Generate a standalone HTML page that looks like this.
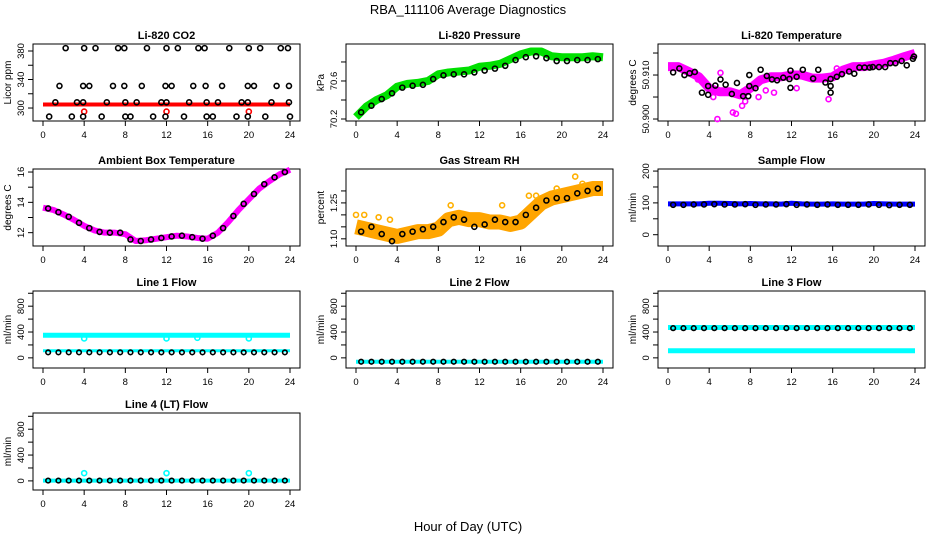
<!DOCTYPE html>
<html><head><meta charset="utf-8"><style>
html,body{margin:0;padding:0;background:#fff;}
svg{display:block;font-family:"Liberation Sans",Arial,sans-serif;}
</style></head><body>
<svg id="chart" width="936" height="540" viewBox="0 0 936 540">
<text x="468" y="14" text-anchor="middle" font-size="13">RBA_111106  Average Diagnostics</text>
<text x="468" y="531" text-anchor="middle" font-size="13">Hour of Day (UTC)</text>
</svg>
<script>
const HOURS=[0,1,2,3,4,5,6,7,8,9,10,11,12,13,14,15,16,17,18,19,20,21,22,23,24];
const HALF=[0.5,1.5,2.5,3.5,4.5,5.5,6.5,7.5,8.5,9.5,10.5,11.5,12.5,13.5,14.5,15.5,16.5,17.5,18.5,19.5,20.5,21.5,22.5,23.5];
const X_TICKS=[0,4,8,12,16,20,24];

// CO2
const CO2_RED=[305,305,305,305,305,305,305,305,305,305,305,305,305,305,305,305,305,305,305,305,305,305,305,305,305];
const CO2_RED_OUT_X=[4,12,20];
const CO2_RED_OUT_Y=[295,295,295];
const CO2_BLK_X=[2.2,4,5.1,7.3,7.9,10.1,12,13.1,15.1,15.7,18.1,20,21.1,23.1,23.8,1.6,3.9,4.5,6.8,7.9,9.6,11.9,12.5,14.6,15.8,17.4,19.9,20.5,22.7,23.9,1.2,3.3,3.9,6.2,8,9.1,11.5,12,14.2,15.9,17,19.3,19.9,22.2,23.9,0.6,2.8,3.9,5.7,8,8.5,10.7,11.9,13.7,15.9,16.5,18.8,19.9,21.6,24];
const CO2_BLK_Y=[384,384,384,384,384,384,384,384,384,384,384,384,384,384,384,331,331,331,331,331,331,331,331,331,331,331,331,331,331,331,308,308,308,308,308,308,308,308,308,308,308,308,308,308,308,288,288,288,288,288,288,288,288,288,288,288,288,288,288,288];

// Pressure
const PRES_GREEN=[70.22,70.33,70.40,70.45,70.54,70.57,70.58,70.60,70.67,70.69,70.70,70.71,70.75,70.76,70.78,70.83,70.88,70.91,70.91,70.86,70.85,70.85,70.85,70.86,70.85];
const PRES_BLK=[70.27,70.34,70.41,70.47,70.53,70.55,70.56,70.62,70.66,70.67,70.67,70.69,70.71,70.73,70.76,70.82,70.85,70.86,70.84,70.81,70.81,70.82,70.82,70.83];

// Li-820 temperature
const TEMP_MAG=[50.9119,50.9119,50.9108,50.9096,50.9070,50.9062,50.9062,50.9055,50.9070,50.9089,50.9096,50.9096,50.9100,50.9100,50.9093,50.9093,50.9096,50.9111,50.9119,50.9119,50.9123,50.9127,50.9134,50.9142,50.9149];
const TEMP_OUT_X=[4.8,6.3,6.6,7.2,9.5,10.3,12.5,15.6,5.1,16.4,3.5,4.4,7.5,8.8,2.9];
const TEMP_OUT_Y=[50.9000,50.9015,50.9012,50.9030,50.9065,50.9060,50.9070,50.9045,50.9105,50.9115,50.9080,50.9050,50.9040,50.9050,50.9090];
const TEMP_BLK_X=[0.5,1.1,1.6,2.1,2.6,3.3,3.9,3.9,4.6,5.1,5.6,6.2,6.7,7.3,7.8,7.9,7.9,8.5,9.0,9.6,10.1,10.6,11.2,11.8,11.9,11.9,12.5,13.1,14.1,14.6,15.3,15.8,15.8,15.8,16.4,16.9,17.6,18.1,18.6,19.1,19.6,19.9,20.5,21.1,21.6,22.1,22.7,23.2,23.8,23.9];
const TEMP_BLK_Y=[50.9106,50.9115,50.9100,50.9104,50.9107,50.9060,50.9075,50.9055,50.9076,50.9090,50.9078,50.9057,50.9082,50.9052,50.9052,50.9100,50.9075,50.9070,50.9112,50.9098,50.9090,50.9088,50.9094,50.9091,50.9071,50.9110,50.9096,50.9112,50.9092,50.9112,50.9083,50.9075,50.9091,50.9060,50.9096,50.9102,50.9108,50.9103,50.9117,50.9117,50.9117,50.9118,50.9118,50.9118,50.9127,50.9127,50.9132,50.9122,50.9137,50.9142];

// Ambient box temperature
const AMB_MAG=[13.65,13.5,13.2,12.85,12.45,12.15,12.0,12.0,11.9,11.45,11.5,11.6,11.7,11.8,11.75,11.65,11.6,12.0,12.7,13.5,14.2,14.9,15.4,15.85,16.15];
const AMB_BLK=[13.6,13.35,13.05,12.65,12.3,12.05,12.0,12.0,11.55,11.45,11.55,11.65,11.75,11.8,11.7,11.6,11.8,12.3,13.1,13.9,14.55,15.2,15.65,16.0];

// Gas stream RH
const RH_ORG=[1.15,1.14,1.13,1.12,1.11,1.12,1.13,1.13,1.14,1.18,1.19,1.18,1.18,1.17,1.17,1.16,1.17,1.21,1.25,1.27,1.28,1.29,1.30,1.31,1.31];
const RH_OUT_X=[0,0.8,2.2,3.3,9.2,14.2,17.5,19.5,21.3,22,16.8,8.0];
const RH_OUT_Y=[1.20,1.20,1.19,1.18,1.24,1.24,1.28,1.31,1.36,1.33,1.28,1.15];
const RH_BLK=[1.13,1.15,1.12,1.09,1.12,1.13,1.14,1.15,1.17,1.19,1.18,1.15,1.16,1.18,1.17,1.17,1.20,1.23,1.26,1.27,1.27,1.29,1.30,1.31];

// Sample flow
const SF_BLUE=[97,97,97,97,99,99,98,97,98,97,97,96,99,97,96,96,97,96,96,96,98,97,96,96,96];
const SF_BLK=[94,94,95,95,96,95,95,96,94,95,95,96,94,95,94,95,94,94,94,95,94,93,94,94];

// Line flows
const L1_CYAN_HI=[350,350,350,350,350,350,350,350,350,350,350,350,350,350,350,350,350,350,350,350,350,350,350,350,350];
const L1_CYAN_LO=[110,110,110,110,110,110,110,110,110,110,110,110,110,110,110,110,110,110,110,110,110,110,110,110,110];
const L1_OUT_X=[4,12,15,20];
const L1_OUT_Y=[300,300,310,300];
const L1_BLK=[85,85,85,85,85,85,85,85,85,85,85,85,85,85,85,85,85,85,85,85,85,85,85,85];
const L2_CYAN=[-60,-60,-60,-60,-60,-60,-60,-60,-60,-60,-60,-60,-60,-60,-60,-60,-60,-60,-60,-60,-60,-60,-60,-60,-60];
const L2_BLK=[-60,-60,-60,-60,-60,-60,-60,-60,-60,-60,-60,-60,-60,-60,-60,-60,-60,-60,-60,-60,-60,-60,-60,-60];
const L3_CYAN_HI=[470,470,470,470,470,470,470,470,470,470,470,470,470,470,470,470,470,470,470,470,470,470,470,470,470];
const L3_CYAN_LO=[110,110,110,110,110,110,110,110,110,110,110,110,110,110,110,110,110,110,110,110,110,110,110,110,110];
const L3_BLK=[460,460,460,460,460,460,460,460,460,460,460,460,460,460,460,460,460,460,460,460,460,460,460,460];
const L4_CYAN=[5,5,5,5,5,5,5,5,5,5,5,5,5,5,5,5,5,5,5,5,5,5,5,5,5];
const L4_OUT_X=[4,12,20];
const L4_OUT_Y=[120,120,120];
const L4_BLK=[5,5,5,5,5,5,5,5,5,5,5,5,5,5,5,5,5,5,5,5,5,5,5,5];

const svg=document.getElementById('chart');
const NS='http://www.w3.org/2000/svg';
function mk(tag,attrs,parent){const e=document.createElementNS(NS,tag);for(const k in attrs)e.setAttribute(k,attrs[k]);(parent||svg).appendChild(e);return e;}

const COLS=[33,346,658], ROWS=[44,169,291,413], W=267, H=77;
function panel(col,row,title,ylab,lo,hi,ticks,labels,key){
  const L=COLS[col],T=ROWS[row];
  const g=mk('g',{});
  
  
  const p={L,T,g,
    x:v=>L+10+v*247/24,
    y:v=>T+H-(v-lo)/(hi-lo)*H};
  const t=mk('text',{x:L+W/2,y:T-5,'text-anchor':'middle','font-size':'11','font-weight':'bold'},g);
  t.textContent=title;
  
  
  const box=mk('rect',{x:L,y:T,width:W,height:H,fill:'none',stroke:'#000','stroke-width':1},g);
  
  
  const xa=mk('g',{},g);
  
  
  X_TICKS.forEach(v=>{
    mk('line',{x1:p.x(v),x2:p.x(v),y1:T+H,y2:T+H+5,stroke:'#000'},xa);
    const tl=mk('text',{x:p.x(v),y:T+H+17,'text-anchor':'middle','font-size':'9.5'},xa);
    tl.textContent=v;
    
    
  });
  const ya=mk('g',{},g);
  
  
  mk('line',{x1:L,x2:L,y1:p.y(ticks[0]),y2:p.y(ticks[ticks.length-1]),stroke:'#000'},ya);
  ticks.forEach(v=>{mk('line',{x1:L-5,x2:L,y1:p.y(v),y2:p.y(v),stroke:'#000'},ya);});
  labels.forEach(v=>{
    const yy=p.y(v);
    const tl=mk('text',{x:L-9,y:yy,'text-anchor':'middle','font-size':'9.5',transform:`rotate(-90 ${L-9} ${yy})`},ya);
    tl.textContent=v;
    
    
  });
  const yt=mk('text',{x:L-22,y:T+H/2,'text-anchor':'middle','font-size':'10',transform:`rotate(-90 ${L-22} ${T+H/2})`},g);
  yt.textContent=ylab;
  
  
  return p;
}
function band(p,xs,vals,color,w,name){
  const pts=xs.map((x,i)=>p.x(x)+','+p.y(vals[i])).join(' ');
  const e=mk('polyline',{points:pts,fill:'none',stroke:color,'stroke-width':w,'stroke-linejoin':'round','stroke-linecap':'butt'},p.g);
  
  
}
function pts(p,xs,vals,color,name,r){
  xs.forEach((x,i)=>{
    const c=mk('circle',{cx:p.x(x),cy:p.y(vals[i]),r:r||2.5,fill:'none',stroke:color,'stroke-width':1.6},p.g);
    
    
  });
}
const FT=[0,200,400,600,800,1000], FL=[0,400,800];

let p=panel(0,0,'Li-820 CO2','Licor ppm',281.8,389.8,[300,320,340,360,380],[300,340,380],'co2');
band(p,HOURS,CO2_RED,'#f00',4,'co2-red-series');
pts(p,CO2_RED_OUT_X,CO2_RED_OUT_Y,'#f00','co2-red-point');
pts(p,CO2_BLK_X,CO2_BLK_Y,'#000','co2-black-point');

p=panel(1,0,'Li-820 Pressure','kPa',70.179,70.989,[70.2,70.4,70.6,70.8],[70.2,70.6],'pressure');
band(p,HOURS,PRES_GREEN,'#00e000',8,'pressure-green-series');
pts(p,HALF,PRES_BLK,'#000','pressure-black-point');

p=panel(2,0,'Li-820 Temperature','degrees C',50.89955,50.91705,[50.900,50.905,50.910,50.915],['50.900','50.910'],'li820-temp');
band(p,HOURS,TEMP_MAG,'#ff00ff',9,'temp-magenta-series');
pts(p,TEMP_OUT_X,TEMP_OUT_Y,'#ff00ff','temp-magenta-point');
pts(p,TEMP_BLK_X,TEMP_BLK_Y,'#000','temp-black-point');

p=panel(0,1,'Ambient Box Temperature','degrees C',11.12,16.2,[12,13,14,15,16],[12,14,16],'ambient');
band(p,HOURS,AMB_MAG,'#ff00ff',6,'ambient-magenta-series');
pts(p,HALF,AMB_BLK,'#000','ambient-black-point');

p=panel(1,1,'Gas Stream RH','percent',1.070,1.3916,[1.10,1.15,1.20,1.25,1.30],['1.10','1.25'],'rh');
band(p,HOURS,RH_ORG,'#ffa500',15,'rh-orange-series');
pts(p,RH_OUT_X,RH_OUT_Y,'#ffb000','rh-orange-point');
pts(p,HALF,RH_BLK,'#000','rh-black-point');

p=panel(2,1,'Sample Flow','ml/min',-35.5,206.5,[0,50,100,150,200],[0,100,200],'sample-flow');
band(p,HOURS,SF_BLUE,'#0000ff',5,'sample-flow-blue-series');
pts(p,HALF,SF_BLK,'#000','sample-flow-black-point');

p=panel(0,2,'Line 1 Flow','ml/min',-157,1035,FT,FL,'line1');
band(p,HOURS,L1_CYAN_HI,'#00ffff',5,'line1-cyan-high');
band(p,HOURS,L1_CYAN_LO,'#00ffff',3,'line1-cyan-low');
pts(p,L1_OUT_X,L1_OUT_Y,'#00ffff','line1-cyan-point');
pts(p,HALF,L1_BLK,'#000','line1-black-point',2.3);

p=panel(1,2,'Line 2 Flow','ml/min',-157,1035,FT,FL,'line2');
band(p,HOURS,L2_CYAN,'#00ffff',4,'line2-cyan');
pts(p,HALF,L2_BLK,'#000','line2-black-point',2.3);

p=panel(2,2,'Line 3 Flow','ml/min',-157,1035,FT,FL,'line3');
band(p,HOURS,L3_CYAN_HI,'#00ffff',5,'line3-cyan-high');
band(p,HOURS,L3_CYAN_LO,'#00ffff',5,'line3-cyan-low');
pts(p,HALF,L3_BLK,'#000','line3-black-point',2.3);

p=panel(0,3,'Line 4 (LT) Flow','ml/min',-141,1051,FT,FL,'line4');
band(p,HOURS,L4_CYAN,'#00ffff',4,'line4-cyan');
pts(p,L4_OUT_X,L4_OUT_Y,'#00ffff','line4-cyan-point');
pts(p,HALF,L4_BLK,'#000','line4-black-point',2.3);
</script>
</body></html>
